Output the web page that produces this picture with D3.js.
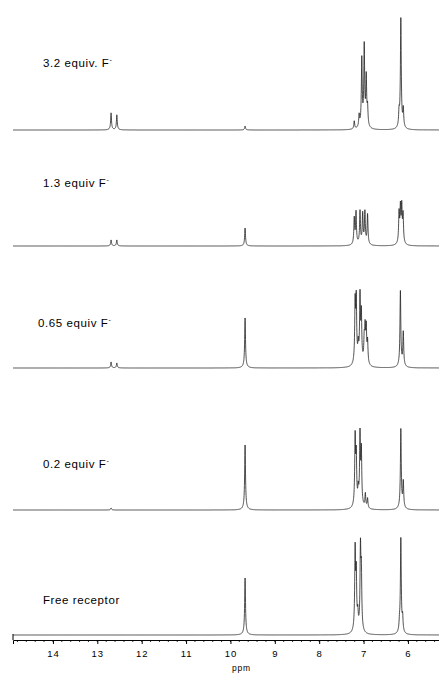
<!DOCTYPE html>
<html>
<head>
<meta charset="utf-8">
<script src="https://cdn.jsdelivr.net/npm/d3@7"></script>
<style>
  body { margin: 0; background: #fff; }
  text { font-family: "Liberation Sans", Arial, sans-serif; fill: #000; }
</style>
</head>
<body>
<div id="chart"></div>
<script>
// spectrum labels, top to bottom
const labels = ["3.2 equiv. F", "1.3 equiv F", "0.65 equiv F", "0.2 equiv F", "Free receptor"];
const hasAnion = [true, true, true, true, false];

// peak lists [ppm, height]
const peaks32 = [[12.69, 17], [12.56, 15], [9.67, 4], [7.21, 8], [7.10, 12], [7.04, 68], [6.985, 80], [6.94, 48], [6.91, 18], [6.20, 14], [6.16, 110], [6.105, 18]];
const peaks13 = [[12.69, 6], [12.56, 6], [9.67, 18], [7.21, 26], [7.17, 32], [7.08, 33], [7.02, 30], [6.97, 32], [6.91, 30], [6.20, 30], [6.17, 34], [6.14, 35], [6.11, 28]];
const peaks065 = [[12.69, 6], [12.56, 5], [9.67, 50], [7.19, 60], [7.165, 62], [7.12, 16], [7.08, 66], [7.05, 48], [6.985, 22], [6.965, 32], [6.94, 34], [6.91, 22], [6.17, 76], [6.105, 34]];
const peaks02 = [[12.69, 2], [9.67, 65], [7.19, 68], [7.165, 48], [7.12, 14], [7.08, 70], [7.05, 54], [6.96, 14], [6.91, 10], [6.16, 80], [6.105, 26]];
const peaksFree = [[9.67, 57], [7.19, 80], [7.165, 54], [7.13, 15], [7.07, 80], [7.05, 54], [6.19, 8], [6.16, 95], [6.12, 14]];
const spectra = [peaks32, peaks13, peaks065, peaks02, peaksFree];

const ppmTicks = [14, 13, 12, 11, 10, 9, 8, 7, 6];

const width = 439, height = 674;
const baselines = [130, 246, 368, 510, 635];
const labelPos = [[43, 67], [43, 187], [38, 327], [43, 468], [43, 604]];
const axisY = 640;

const svg = d3.select("#chart").append("svg")
  .attr("width", width)
  .attr("height", height);

const x = d3.scaleLinear().domain([14.9, 5.3]).range([13, 439]);

// lorentzian lines: narrow line plus a small broad foot
function intensity(peaks, p) {
  let s = 0;
  peaks.forEach(([c, h]) => {
    const w1 = 0.011, w2 = 0.045;
    const d = p - c;
    s += h * 0.95 * (w1 * w1) / (d * d + w1 * w1);
    s += h * 0.05 * (w2 * w2) / (d * d + w2 * w2);
  });
  return s;
}

const grid = d3.range(14.9, 5.3, -0.0025);

spectra.forEach((peaks, i) => {
  const y = d3.scaleLinear().domain([0, 100]).range([baselines[i], baselines[i] - 100]);
  const pts = grid.concat(peaks.map(d => d[0])).sort((a, b) => b - a);
  const line = d3.line()
    .x(p => x(p))
    .y(p => y(intensity(peaks, p)));
  svg.append("path")
    .datum(pts)
    .attr("d", line)
    .attr("fill", "none")
    .attr("stroke", "#222")
    .attr("stroke-width", 0.8);

  const t = svg.append("text")
    .attr("x", labelPos[i][0])
    .attr("y", labelPos[i][1])
    .attr("font-size", 11.5)
    .attr("letter-spacing", 0.6)
    .text(labels[i]);
  if (hasAnion[i]) {
    t.append("tspan")
      .attr("dy", -5)
      .attr("font-size", 7)
      .text("-");
  }
});

// frame at the bottom spectrum
svg.append("line")
  .attr("x1", 13).attr("x2", 13)
  .attr("y1", baselines[4] - 1).attr("y2", axisY)
  .attr("stroke", "#000").attr("stroke-width", 1);

const xAxis = d3.axisBottom(x)
  .tickValues(ppmTicks)
  .tickSize(4)
  .tickFormat(d3.format("d"));

const gx = svg.append("g")
  .attr("transform", `translate(0, ${axisY})`)
  .call(xAxis);
gx.select(".domain").attr("stroke-width", 1);
gx.selectAll(".tick text")
  .attr("font-size", 9.5)
  .attr("dy", "1.05em")
  .attr("letter-spacing", 1)
  .style("font-family", "Liberation Sans, Arial, sans-serif");

// minor ticks every 0.2 ppm
svg.append("g")
  .selectAll("line")
  .data(d3.range(14.8, 5.3, -0.2))
  .join("line")
  .attr("x1", d => x(d)).attr("x2", d => x(d))
  .attr("y1", axisY).attr("y2", axisY + 2)
  .attr("stroke", "#000").attr("stroke-width", 0.8);

svg.append("text")
  .attr("x", x(9.75))
  .attr("y", 671)
  .attr("text-anchor", "middle")
  .attr("font-size", 8.5)
  .attr("letter-spacing", 0.8)
  .text("ppm");
</script>
</body>
</html>
